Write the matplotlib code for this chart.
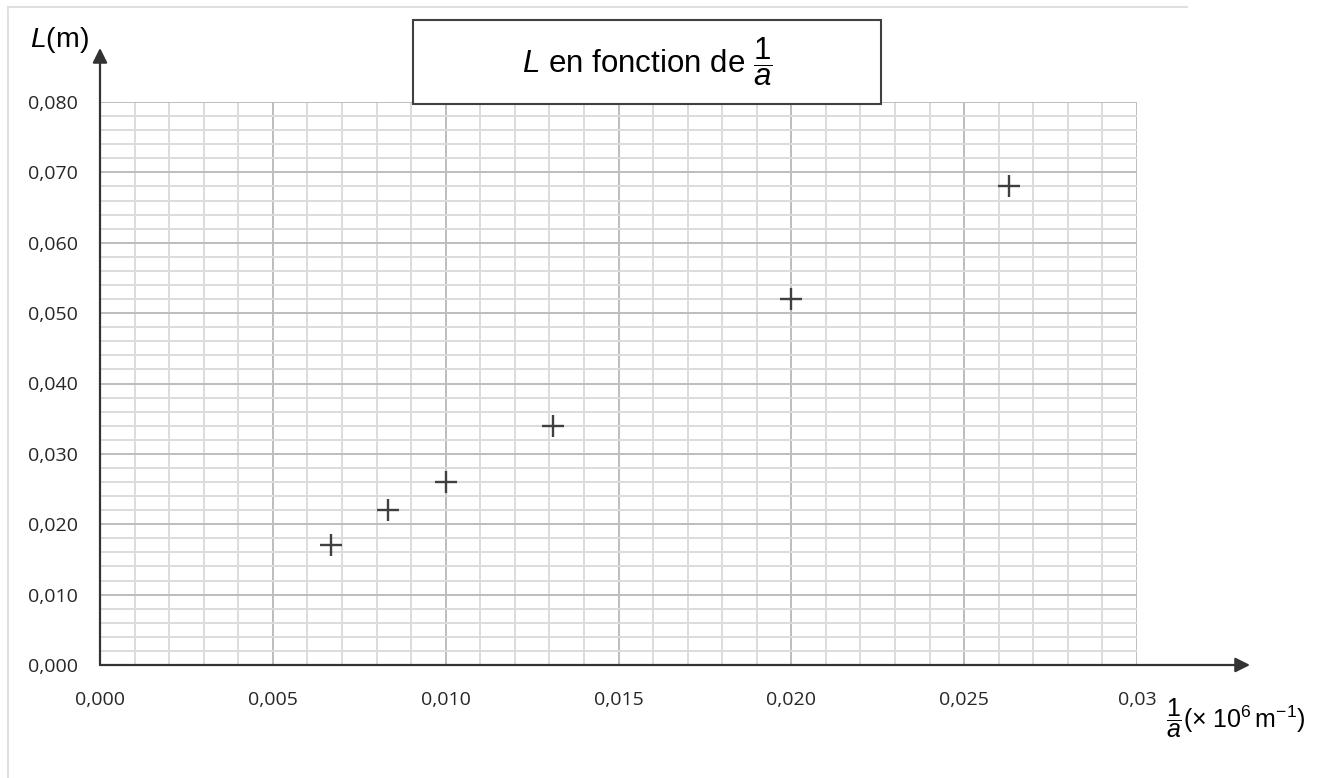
import numpy as np
import matplotlib.pyplot as plt
from matplotlib.patches import Rectangle
from matplotlib.lines import Line2D

plt.rcParams['font.family'] = ['Open Sans', 'DejaVu Sans']
plt.rcParams['mathtext.fontset'] = 'custom'
plt.rcParams['mathtext.rm'] = 'Liberation Sans'
plt.rcParams['mathtext.it'] = 'Liberation Sans:italic'

# data
inv_a = [0.00667, 0.00833, 0.0100, 0.0131, 0.0200, 0.0263]
L = [0.017, 0.022, 0.026, 0.034, 0.052, 0.068]

x_ticks = [0.000, 0.005, 0.010, 0.015, 0.020, 0.025, 0.030]
x_labels = ["0,000", "0,005", "0,010", "0,015", "0,020", "0,025", "0,03"]
y_ticks = [0.000, 0.010, 0.020, 0.030, 0.040, 0.050, 0.060, 0.070, 0.080]
y_labels = ["0,000", "0,010", "0,020", "0,030", "0,040", "0,050", "0,060", "0,070", "0,080"]

fig = plt.figure(figsize=(13.33, 7.78), dpi=100)
ax = fig.add_axes([100 / 1333, 1 - 665 / 778, 1037 / 1333, 563 / 778])

ax.plot(inv_a, L, linestyle='none', marker='+', markersize=16,
        markeredgewidth=1.7, color='#404040', zorder=5, clip_on=False)

ax.set_xlim(0, 0.03)
ax.set_ylim(0, 0.08)
ax.set_xticks(x_ticks)
ax.set_xticklabels(x_labels)
ax.set_yticks(y_ticks)
ax.set_yticklabels(y_labels)
ax.set_xticks(np.arange(0, 0.0301, 0.001), minor=True)
ax.set_yticks(np.arange(0, 0.0801, 0.002), minor=True)
ax.tick_params(which='both', length=0, labelsize=14, colors='#262626')
ax.tick_params(axis='x', pad=19)
ax.tick_params(axis='y', pad=16)

ax.grid(which='minor', color='#dcdcdc', linewidth=1.4)
ax.grid(which='major', color='#bdbdbd', linewidth=1.4)
ax.set_axisbelow(True)

for side in ['top', 'right', 'left', 'bottom']:
    ax.spines[side].set_visible(False)

# axis arrows
ax.annotate('', xy=(0, 1.096), xytext=(0, 0), xycoords='axes fraction',
            arrowprops=dict(arrowstyle='-|>', color='#333333', lw=1.6,
                            mutation_scale=22, shrinkA=0, shrinkB=0),
            zorder=6)
ax.annotate('', xy=(1.109, 0), xytext=(0, 0), xycoords='axes fraction',
            arrowprops=dict(arrowstyle='-|>', color='#333333', lw=1.6,
                            mutation_scale=22, shrinkA=0, shrinkB=0),
            zorder=6)

# axis titles
fig.text(30 / 1333, 1 - 40 / 778, r"$\mathit{L}$(m)", fontsize=20.5,
         family='Liberation Sans', ha='left', va='center', color='black')
fig.text(1166 / 1333, 1 - 718 / 778,
         r"$\dfrac{\mathit{1}}{a}$(× 10$^{6}\,$m$^{-1}$)",
         fontsize=18, family='Liberation Sans', ha='left', va='center',
         color='black')

# title box
fig.patches.append(Rectangle((413 / 1333, 1 - 104 / 778), 468 / 1333, 84 / 778,
                             transform=fig.transFigure, facecolor='white',
                             edgecolor='#404040', linewidth=1.5, zorder=10))
fig.text(647 / 1333, 1 - 62 / 778,
         r"$\mathit{L}$ en fonction de $\dfrac{\mathit{1}}{a}$",
         fontsize=22.5, family='Liberation Sans', ha='center', va='center',
         color='black', zorder=11)

# outer frame
fig.lines.append(Line2D([8 / 1333, 8 / 1333], [0, 1 - 7 / 778],
                        transform=fig.transFigure, color='#e0e0e0', lw=1.5))
fig.lines.append(Line2D([8 / 1333, 1187 / 1333], [1 - 7 / 778, 1 - 7 / 778],
                        transform=fig.transFigure, color='#e0e0e0', lw=1.5))

fig.savefig('out.png', dpi=100)
